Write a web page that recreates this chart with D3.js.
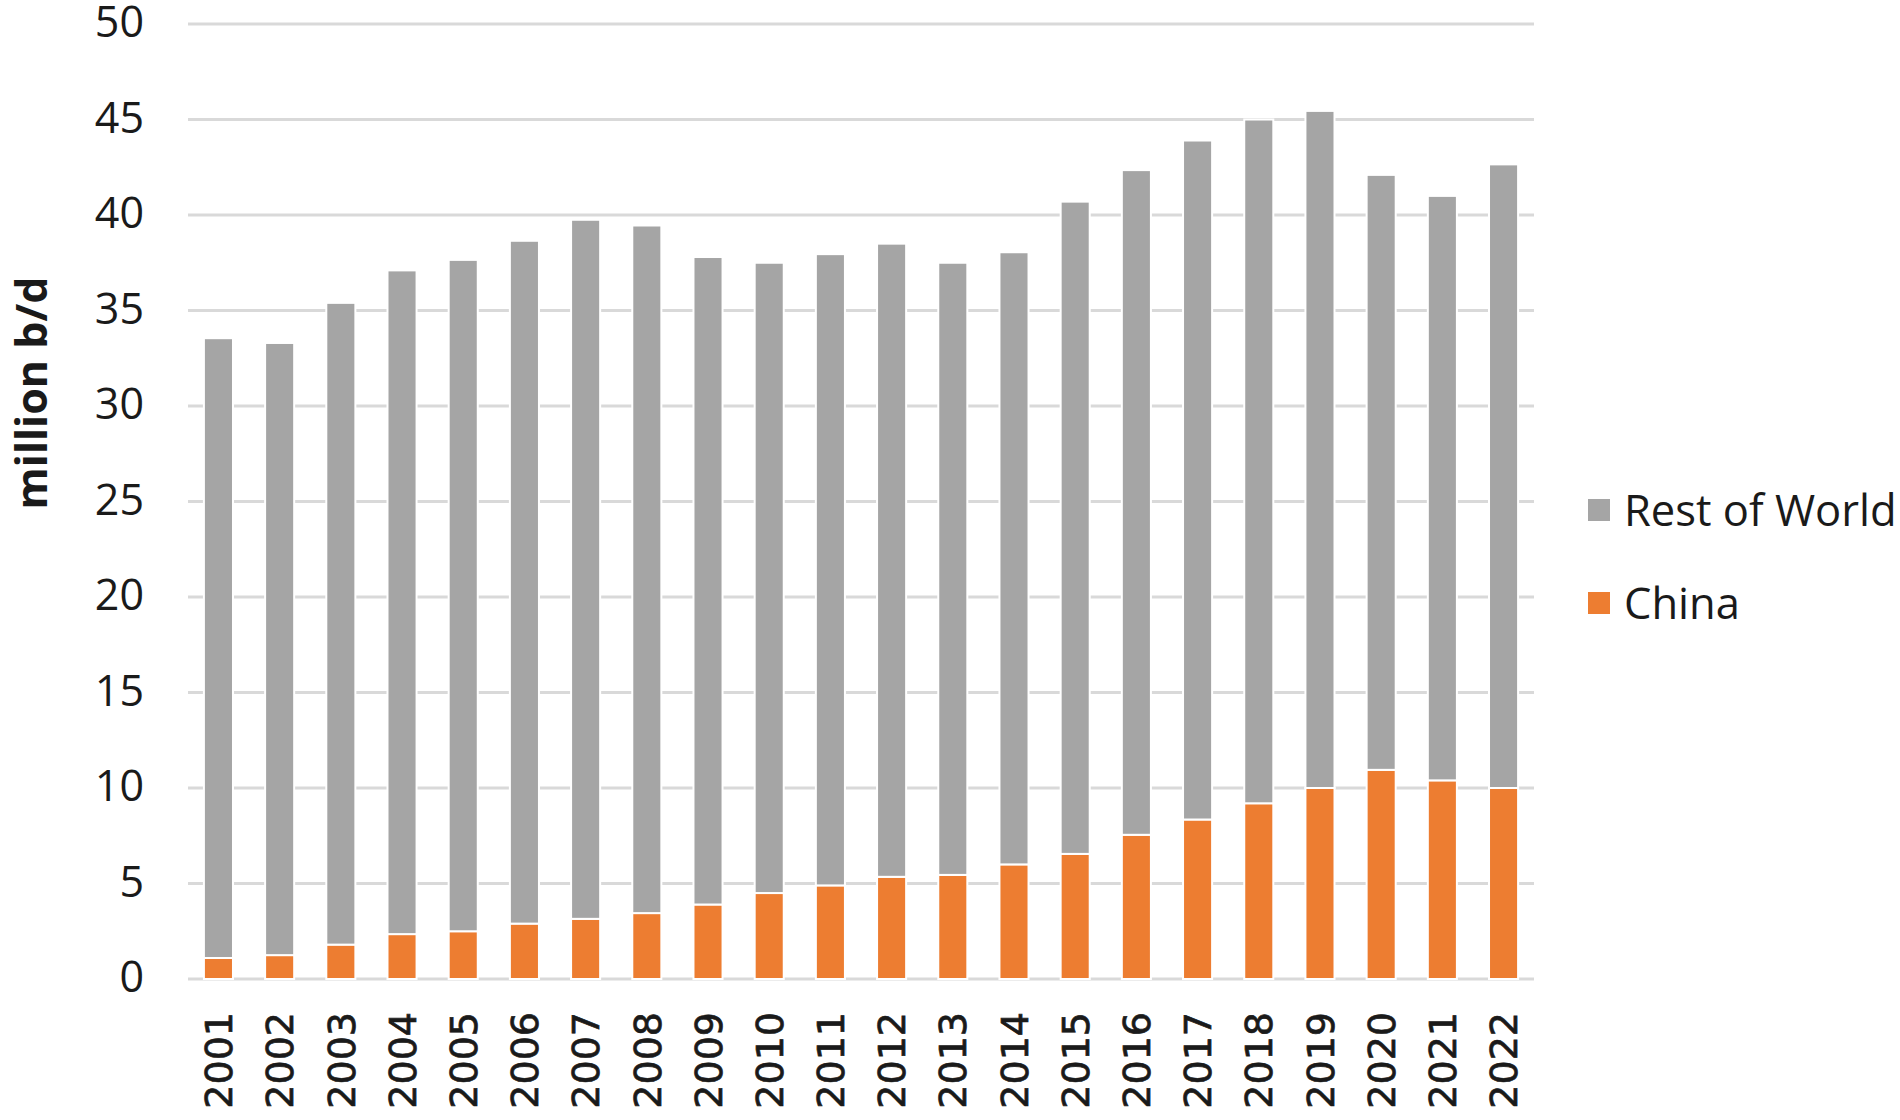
<!DOCTYPE html>
<html>
<head>
<meta charset="utf-8">
<script src="https://cdn.jsdelivr.net/npm/d3@7"></script>
<style>
  html, body { margin: 0; padding: 0; background: #ffffff; }
  svg { display: block; }
</style>
</head>
<body>
<svg id="chart" width="1900" height="1120"></svg>
<script>
const years = ["2001","2002","2003","2004","2005","2006","2007","2008","2009","2010","2011","2012","2013","2014","2015","2016","2017","2018","2019","2020","2021","2022"];
const china = [1.1, 1.25, 1.8, 2.35, 2.5, 2.9, 3.15, 3.45, 3.9, 4.5, 4.9, 5.35, 5.45, 6.0, 6.55, 7.55, 8.35, 9.2, 10.0, 10.95, 10.4, 10.0];
const restOfWorld = [32.45, 32.05, 33.6, 34.75, 35.15, 35.75, 36.6, 36.0, 33.9, 33.0, 33.05, 33.15, 32.05, 32.05, 34.15, 34.8, 35.55, 35.8, 35.45, 31.15, 30.6, 32.65];
const yTicks = [0, 5, 10, 15, 20, 25, 30, 35, 40, 45, 50];
const seriesNames = ["China", "Rest of World"];
const seriesColors = { "China": "#ed7d31", "Rest of World": "#a5a5a5" };
const yLabel = "million b/d";

const rows = years.map((y, i) => ({ year: y, "China": china[i], "Rest of World": restOfWorld[i] }));

const svg = d3.select("#chart");
const plotLeft = 188, plotRight = 1534, plotTop = 24, plotBottom = 979;

const x = d3.scaleBand().domain(years).range([plotLeft, plotRight]).paddingInner(0.525).paddingOuter(0.26);
const y = d3.scaleLinear().domain([0, 50]).range([plotBottom, plotTop]);

// gridlines
svg.append("g").selectAll("line").data(yTicks).join("line")
  .attr("x1", plotLeft).attr("x2", plotRight)
  .attr("y1", d => y(d)).attr("y2", d => y(d))
  .attr("stroke", "#d9d9d9").attr("stroke-width", 3);

// y tick labels
const yAxis = d3.axisLeft(y).tickValues(yTicks).tickSize(0).tickPadding(0);
const yg = svg.append("g").attr("transform", "translate(144,0)").call(yAxis);
yg.select(".domain").remove();
yg.selectAll("text")
  .attr("font-family", "'Open Sans', sans-serif")
  .attr("font-size", 43)
  .attr("fill", "#1a1a1a")
  .attr("dy", "0.30em");

// stacked bars
const stack = d3.stack().keys(seriesNames)(rows);
svg.append("g").selectAll("g").data(stack).join("g")
  .attr("fill", d => seriesColors[d.key])
  .selectAll("rect").data(d => d).join("rect")
  .attr("x", d => x(d.data.year))
  .attr("width", x.bandwidth())
  .attr("y", d => y(d[1]))
  .attr("height", d => y(d[0]) - y(d[1]))
  .attr("stroke", "#ffffff")
  .attr("stroke-width", 2);

// x labels
const xAxis = d3.axisBottom(x).tickSize(0).tickPadding(0);
const xg = svg.append("g").attr("transform", "translate(0,1012)").call(xAxis);
xg.select(".domain").remove();
xg.selectAll("text")
  .attr("font-family", "'DejaVu Sans', sans-serif")
  .attr("font-size", 38)
  .attr("fill", "#1a1a1a")
  .attr("stroke", "#1a1a1a")
  .attr("stroke-width", 0.7)
  .attr("transform", "rotate(-90)")
  .attr("text-anchor", "end")
  .attr("x", 0)
  .attr("y", 0)
  .attr("dy", "0.36em");

// y axis title
svg.append("text")
  .attr("transform", "translate(47,393) rotate(-90)")
  .attr("text-anchor", "middle")
  .attr("font-family", "'Open Sans', sans-serif")
  .attr("font-weight", "bold")
  .attr("font-size", 43)
  .attr("fill", "#1a1a1a")
  .text(yLabel);

// legend
const legendItems = ["Rest of World", "China"];
const lg = svg.append("g").selectAll("g").data(legendItems).join("g")
  .attr("transform", (d, i) => `translate(1588,${499 + i * 93})`);
lg.append("rect").attr("width", 22).attr("height", 22).attr("fill", d => seriesColors[d]);
lg.append("text")
  .attr("x", 36).attr("y", 11).attr("dy", "0.36em")
  .attr("font-family", "'Open Sans', sans-serif")
  .attr("font-size", 43.5)
  .attr("fill", "#1a1a1a")
  .text(d => d);
</script>
</body>
</html>
